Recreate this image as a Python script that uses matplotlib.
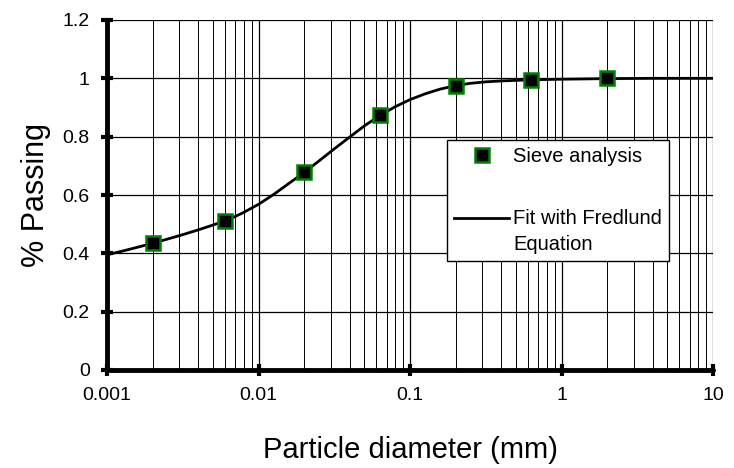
import matplotlib
matplotlib.use("Agg")
import matplotlib.pyplot as plt
from matplotlib.ticker import LogLocator, FixedLocator, NullFormatter
from matplotlib.legend_handler import HandlerLine2D

plt.rcParams['font.family'] = ['Liberation Sans', 'DejaVu Sans']

# Sieve analysis data
sieve_d = [0.002, 0.006, 0.02, 0.063, 0.2, 0.63, 2.0]
sieve_p = [0.435, 0.511, 0.678, 0.873, 0.975, 0.996, 1.0]

# Fredlund fit curve
fit_d = [0.001, 0.00126, 0.00158, 0.002, 0.00251, 0.00316, 0.00398, 0.005,
         0.006, 0.0063, 0.0079, 0.01, 0.0126, 0.0158, 0.02, 0.0251, 0.0316,
         0.0398, 0.05, 0.063, 0.0794, 0.1, 0.126, 0.158, 0.2, 0.251, 0.316,
         0.398, 0.501, 0.631, 1.0, 2.0, 4.0, 10.0]
fit_p = [0.395, 0.4075, 0.4205, 0.4345, 0.449, 0.464, 0.480, 0.497,
         0.511, 0.515, 0.539, 0.568, 0.602, 0.639, 0.677, 0.717, 0.758,
         0.798, 0.837, 0.872, 0.902, 0.927, 0.947, 0.963, 0.975, 0.983, 0.988,
         0.991, 0.993, 0.995, 0.997, 0.999, 1.0, 1.0]

x_ticks = [0.001, 0.01, 0.1, 1, 10]
x_ticklabels = ['0.001', '0.01', '0.1', '1', '10']
y_ticks = [0, 0.2, 0.4, 0.6, 0.8, 1.0, 1.2]
y_ticklabels = ['0', '0.2', '0.4', '0.6', '0.8', '1', '1.2']


class RaisedLineHandler(HandlerLine2D):
    """Draw the legend line level with the first line of a two-line label."""
    def __init__(self, raise_by=9.5, **kw):
        super().__init__(**kw)
        self.raise_by = raise_by

    def create_artists(self, legend, orig_handle, xdescent, ydescent,
                       width, height, fontsize, trans):
        return super().create_artists(legend, orig_handle, xdescent,
                                      ydescent - 2 * self.raise_by,
                                      width, height, fontsize, trans)


fig = plt.figure(figsize=(7.34, 4.68), dpi=100)
ax = fig.add_axes([107/734, 1-370/468, (713-107)/734, (370-20)/468])

ax.set_xscale('log')
ax.set_xlim(0.001, 10)
ax.set_ylim(0, 1.2)

ax.grid(True, which='major', axis='both', color='black', linewidth=0.9)
ax.grid(True, which='minor', axis='x', color='black', linewidth=0.7)
ax.set_axisbelow(True)

fit_line, = ax.plot(fit_d, fit_p, color='black', linewidth=2.0, zorder=3,
                    label='Fit with Fredlund\nEquation')
sieve_pts, = ax.plot(sieve_d, sieve_p, linestyle='none', marker='s', markersize=10,
                     markerfacecolor='black', markeredgecolor='#008000',
                     markeredgewidth=1.8, zorder=4, label='Sieve analysis')

ax.xaxis.set_major_locator(FixedLocator(x_ticks))
ax.set_xticklabels(x_ticklabels)
ax.xaxis.set_minor_locator(LogLocator(base=10, subs=range(2, 10)))
ax.xaxis.set_minor_formatter(NullFormatter())
ax.set_yticks(y_ticks)
ax.set_yticklabels(y_ticklabels)

ax.tick_params(axis='both', which='major', direction='inout', length=9, width=3,
               labelsize=14, color='black')
ax.tick_params(axis='x', which='major', pad=8)
ax.tick_params(axis='y', which='major', pad=8)
ax.tick_params(axis='x', which='minor', length=0)

for s in ['top', 'right']:
    ax.spines[s].set_visible(False)
for s in ['left', 'bottom']:
    ax.spines[s].set_linewidth(3.5)
    ax.spines[s].set_color('black')
    ax.spines[s].set_capstyle('round')

ax.set_xlabel('Particle diameter (mm)', fontsize=21, labelpad=23)
ax.set_ylabel('% Passing', fontsize=22, labelpad=8)

leg = ax.legend([sieve_pts, fit_line], ['Sieve analysis', 'Fit with Fredlund\nEquation'],
                loc='upper left', bbox_to_anchor=(447/734, 1-140/468),
                bbox_transform=fig.transFigure, borderaxespad=0,
                fontsize=14.5, frameon=True, fancybox=False, framealpha=1,
                edgecolor='black', handlelength=2.75, handletextpad=0.2,
                labelspacing=2.15, borderpad=0.35,
                handler_map={fit_line: RaisedLineHandler(raise_by=10.0)})
leg.get_frame().set_linewidth(1.0)
leg.get_texts()[1].set_linespacing(1.45)

fig.savefig('out.png', dpi=100)
